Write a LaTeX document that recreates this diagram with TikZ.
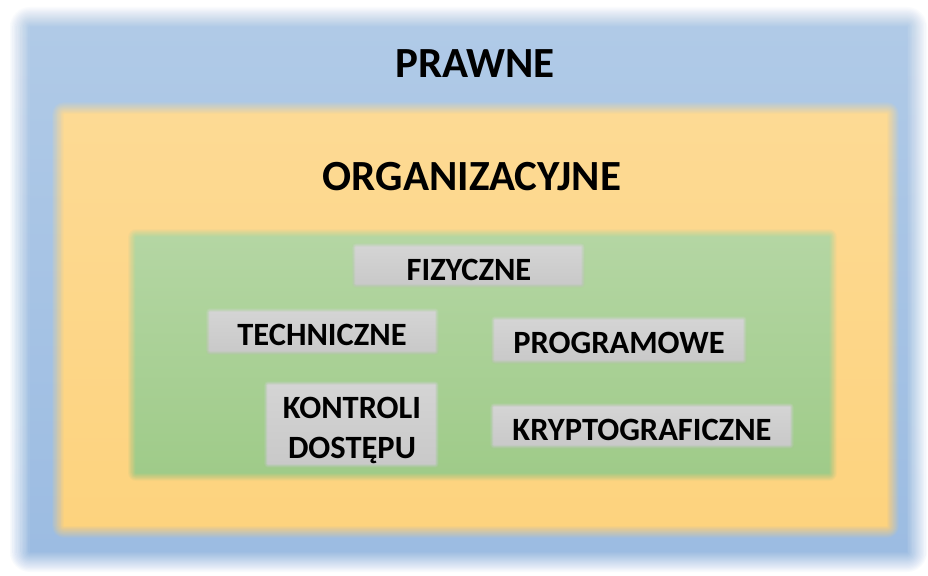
\documentclass[tikz,border=0pt]{standalone}
\usepackage{fontspec}
\setmainfont{Carlito}
\definecolor{blueT}{HTML}{B0CAE7}
\definecolor{blueB}{HTML}{9CBCE2}
\definecolor{orangeT}{HTML}{FDDA94}
\definecolor{orangeB}{HTML}{FDD37E}
\definecolor{greenT}{HTML}{B4D6A3}
\definecolor{greenB}{HTML}{9FCB89}
\definecolor{grayT}{HTML}{D4D4D4}
\definecolor{grayB}{HTML}{C9C9C9}
% Rectangle with soft (feathered) edges:
% #1,#2 top-left, #3,#4 bottom-right, #5 feather width, #6/#7 top/bottom colours
\newcommand\softbox[7]{%
  \foreach \k in {1,...,16}{%
    \pgfmathsetmacro\dd{#5*(\k-8.5)/15}%
    \pgfmathsetmacro\op{1/(17-\k)}%
    \pgfmathsetmacro\rc{max(0.5,#5/2-\dd)}%
    \shade[top color=#6,bottom color=#7,fill opacity=\op,rounded corners=\rc pt]
      (#1+\dd,#2+\dd) rectangle (#3-\dd,#4-\dd);
  }%
}
\tikzset{
  big/.style={font=\bfseries\fontsize{43}{51}\selectfont,text=black,inner sep=0pt},
  label/.style={font=\bfseries\fontsize{32.5}{40}\selectfont,text=black,inner sep=0pt,align=center},
}
\begin{document}
\begin{tikzpicture}[x=1pt,y=-1pt]
\useasboundingbox (0,0) rectangle (928,575);
\fill[white] (0,0) rectangle (928,575);
% nested layers
\softbox{20}{17}{917}{562}{20}{blueT}{blueB}
\softbox{58}{108}{893}{532}{12}{orangeT}{orangeB}
\softbox{132}{233}{833}{477}{8}{greenT}{greenB}
% grey label boxes
\softbox{354}{245}{583}{286}{4}{grayT}{grayB}
\softbox{208}{310}{437}{353}{4}{grayT}{grayB}
\softbox{493}{318}{745}{362}{4}{grayT}{grayB}
\softbox{266}{383}{437}{466}{4}{grayT}{grayB}
\softbox{492}{405}{792}{447}{4}{grayT}{grayB}
% texts
\node[big] (prawne) at (475,64) {PRAWNE};
\node[big] (org) at (472,177) {ORGANIZACYJNE};
\node[label] (fiz) at (469,270) {FIZYCZNE};
\node[label] (tech) at (322,335) {TECHNICZNE};
\node[label] (prog) at (619,343) {PROGRAMOWE};
\node[label] (kontr) at (352,430) {KONTROLI\\DOSTĘPU};
\node[label] (krypt) at (642,430) {KRYPTOGRAFICZNE};
\end{tikzpicture}
\end{document}
